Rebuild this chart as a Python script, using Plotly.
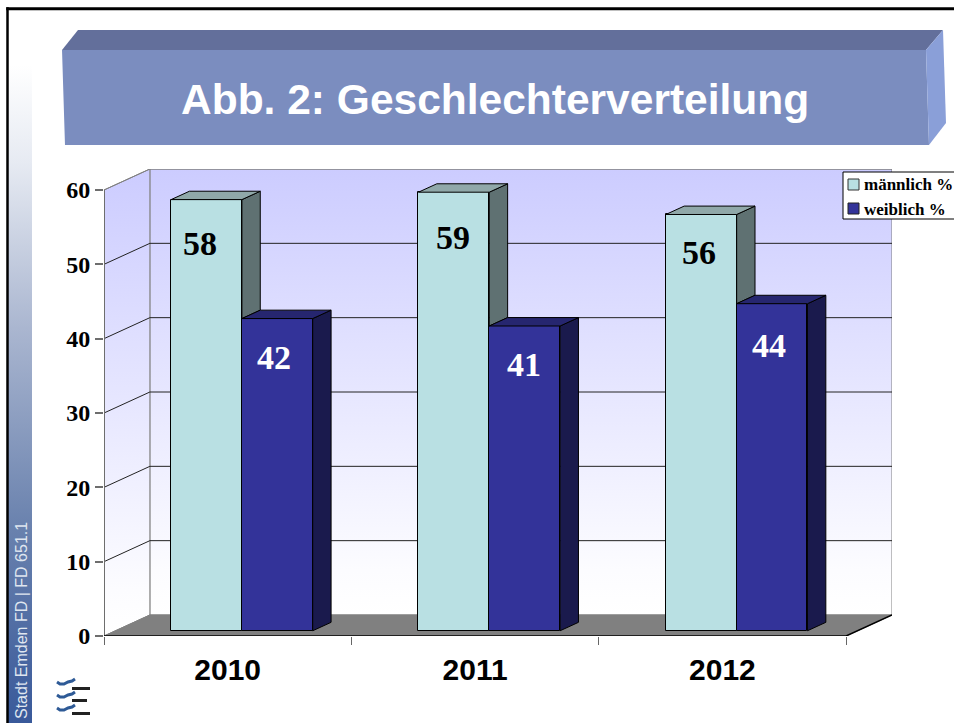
import plotly.graph_objects as go

# ---- data ----
years = ["2010", "2011", "2012"]
male = [58, 59, 56]
female = [42, 41, 44]
y_ticks = [0, 10, 20, 30, 40, 50, 60]
series_names = ["männlich %", "weiblich %"]
title_text = "Abb. 2: Geschlechterverteilung"
side_text = "Stadt Emden FD | FD 651.1"

# ---- page geometry ----
W, H = 954, 723
SERIF = "Liberation Serif"
SANS = "Liberation Sans"
def px(x): return x / W
def py(y): return 1 - y / H

# 3D projection in axis units
DX, DY = 46 / 248, 21 / 7.43
NEAR, FAR = 0.25, 0.65
XNUDGE = 0.06
BAR_W = 71 / 248
XMAX, YMAX = 3 + DX, 60 + DY

def proj(x, v, d):
    return x + (d + XNUDGE) * DX, v + d * DY

def poly(points, color, line="black", lw=1):
    xs = [p[0] for p in points] + [points[0][0]]
    ys = [p[1] for p in points] + [points[0][1]]
    return go.Scatter(x=xs, y=ys, mode="lines", fill="toself", fillcolor=color,
                      line=dict(color=line, width=lw), hoverinfo="skip",
                      showlegend=False, xaxis="x2", yaxis="y2", cliponaxis=False)

fig = go.Figure()

# sidebar gradient
fig.add_trace(go.Scatter(
    x=[8, 32, 32, 8, 8], y=[65, 65, H, H, 65], mode="lines", fill="toself",
    line=dict(width=0), fillgradient=dict(
        type="vertical",
        colorscale=[[0, "#39599a"], [0.3, "#6a82ae"], [0.6, "#aab6d0"], [0.85, "#e6eaf2"], [1, "#ffffff"]]),
    hoverinfo="skip", showlegend=False, xaxis="x3", yaxis="y3"))

# walls
wall_scale = [[0, "#ffffff"], [0.1, "#fcfcff"], [1, "#ccccff"]]
fig.add_trace(go.Scatter(
    x=[DX, XMAX, XMAX, DX, DX], y=[DY, DY, YMAX, YMAX, DY], mode="lines", fill="toself",
    line=dict(color="#808080", width=1), fillgradient=dict(type="vertical", colorscale=wall_scale),
    hoverinfo="skip", showlegend=False, cliponaxis=False))
fig.add_trace(go.Scatter(
    x=[0, DX, DX, 0, 0], y=[0, DY, YMAX, 60, 0], mode="lines", fill="toself",
    line=dict(color="#808080", width=1), fillgradient=dict(type="vertical", colorscale=wall_scale),
    hoverinfo="skip", showlegend=False, cliponaxis=False))
# floor
fig.add_trace(go.Scatter(
    x=[0, DX, XMAX, 3, 0], y=[0, DY, DY, 0, 0], mode="lines", fill="toself",
    fillcolor="#808080", line=dict(color="#808080", width=1),
    hoverinfo="skip", showlegend=False, cliponaxis=False))
# gridlines
for v in y_ticks[1:]:
    fig.add_trace(go.Scatter(
        x=[0, DX, XMAX], y=[v, v + DY, v + DY], mode="lines",
        line=dict(color="#222222" if v < 60 else "#808080", width=1),
        hoverinfo="skip", showlegend=False, cliponaxis=False))
# axis lines
fig.add_trace(go.Scatter(x=[0, 0], y=[0, 60], mode="lines", line=dict(color="#6e6e6e", width=2),
                         hoverinfo="skip", showlegend=False, cliponaxis=False))
fig.add_trace(go.Scatter(x=[0, 3, XMAX], y=[0, 0, DY], mode="lines", line=dict(color="black", width=1.5),
                         hoverinfo="skip", showlegend=False, cliponaxis=False))

# bars
base = NEAR * DY
shift = (NEAR + XNUDGE) * DX
centers = [i + 0.5 + shift for i in range(3)]
fig.add_trace(go.Bar(x=[c - BAR_W / 2 for c in centers], y=male, base=base, width=BAR_W,
                     name=series_names[0], marker=dict(color="#b9e0e3", line=dict(color="black", width=1)),
                     xaxis="x2", yaxis="y2", showlegend=False))
fig.add_trace(go.Bar(x=[c + BAR_W / 2 for c in centers], y=female, base=base, width=BAR_W,
                     name=series_names[1], marker=dict(color="#333399", line=dict(color="black", width=1)),
                     xaxis="x2", yaxis="y2", showlegend=False))

for c, m, f in zip(centers, male, female):
    x0, x1, x2 = c - BAR_W - shift, c - shift, c + BAR_W - shift
    # male side (hidden below the female top) and top
    fig.add_trace(poly([proj(x1, m, NEAR), proj(x1, m, FAR), proj(x1, f, FAR), proj(x1, f, NEAR)], "#5f7172"))
    fig.add_trace(poly([proj(x0, m, NEAR), proj(x1, m, NEAR), proj(x1, m, FAR), proj(x0, m, FAR)], "#90a8a9"))
    # female side and top
    fig.add_trace(poly([proj(x2, f, NEAR), proj(x2, f, FAR), proj(x2, 0, FAR), proj(x2, 0, NEAR)], "#1a1a4d"))
    fig.add_trace(poly([proj(x1, f, NEAR), proj(x2, f, NEAR), proj(x2, f, FAR), proj(x1, f, FAR)], "#26266f"))

annotations = []
# value labels
label_shift_m = [(-7, -44), (-1, -45), (-2, -38)]
label_shift_f = [(-3, -39), (-1, -39), (-3, -42)]
for c, m, f, sm, sf in zip(centers, male, female, label_shift_m, label_shift_f):
    annotations.append(dict(x=c - BAR_W / 2, y=m + base, xref="x2", yref="y2", text=f"<b>{m}</b>",
                            showarrow=False, xshift=sm[0], yshift=sm[1], xanchor="center", yanchor="middle",
                            font=dict(family=SERIF, size=34, color="black")))
    annotations.append(dict(x=c + BAR_W / 2, y=f + base, xref="x2", yref="y2", text=f"<b>{f}</b>",
                            showarrow=False, xshift=sf[0], yshift=sf[1], xanchor="center", yanchor="middle",
                            font=dict(family=SERIF, size=34, color="white")))
# title
annotations.append(dict(x=px(495), y=py(100), xref="paper", yref="paper", text=f"<b>{title_text}</b>",
                        xanchor="center", yanchor="middle",
                        showarrow=False, font=dict(family=SANS, size=42.5, color="white")))
# sidebar text
annotations.append(dict(x=px(21), y=py(621), xref="paper", yref="paper", text=side_text, textangle=-90,
                        xanchor="center", yanchor="middle",
                        showarrow=False, font=dict(family=SANS, size=16, color="#dfe6f0")))
# legend
for name, yy in zip(series_names, [185, 209]):
    annotations.append(dict(x=px(864), y=py(yy), xref="paper", yref="paper", text=f"<b>{name}</b>",
                            xanchor="left", yanchor="middle", xshift=-2,
                            showarrow=False, font=dict(family=SERIF, size=17, color="black")))

def rect(x0, y0, x1, y1, fill, line=None, lw=1, layer="above"):
    return dict(type="rect", xref="paper", yref="paper", x0=px(x0), x1=px(x1), y0=py(y0), y1=py(y1),
                fillcolor=fill, line=dict(color=line or fill, width=lw if line else 0), layer=layer)

def path(points, fill, layer="below"):
    d = "M " + " L ".join(f"{px(a):.5f},{py(b):.5f}" for a, b in points) + " Z"
    return dict(type="path", xref="paper", yref="paper", path=d, fillcolor=fill, line=dict(width=0), layer=layer)

def stroke(d_pts, color, lw):
    d = "M " + " L ".join(f"{px(a):.5f},{py(b):.5f}" for a, b in d_pts)
    return dict(type="path", xref="paper", yref="paper", path=d, line=dict(color=color, width=lw), layer="above")

shapes = [
    # slide frame
    rect(7, 8, W + 5, 9.5, "black", "black", 1.5, "below"),
    rect(7, 8, 8, H + 5, "black", "black", 1.5, "above"),
    # title block
    path([(62, 50), (78, 30), (943, 30), (926, 50)], "#636f9b"),
    path([(62, 50), (926, 50), (929, 145), (65, 145)], "#7b8dbf"),
    path([(926, 50), (943, 30), (946, 123), (929, 145)], "#8a9fd8"),
    # legend
    rect(843, 172, W + 5, 219, "white", "black", 1),
    rect(848, 179, 859, 190, "#b9e0e3", "#333333", 1),
    rect(848, 203, 859, 214, "#333399", "#222222", 1),
]
# logo
for wave_y, bar_y, bar_end in zip((682, 695, 708), (687, 699, 712), (90, 87, 90)):
    shapes.append(stroke([(57, wave_y), (60, wave_y + 2), (64, wave_y + 2), (68, wave_y), (72, wave_y - 1), (75, wave_y - 3)], "#2e5a96", 3))
    shapes.append(rect(72, bar_y, bar_end, bar_y + 3, "#222222"))

fig.update_layout(
    width=W, height=H, margin=dict(l=0, r=0, t=0, b=0, autoexpand=False), autosize=False,
    paper_bgcolor="white", plot_bgcolor="rgba(0,0,0,0)", barmode="overlay", bargap=0,
    shapes=shapes, annotations=annotations, showlegend=False,
    xaxis=dict(domain=[px(104), px(892)], range=[0, XMAX], showgrid=False, zeroline=False, showline=False,
               tickmode="array", tickvals=[0.5, 1.5, 2.5], ticktext=years, ticks="outside", ticklen=7,
               tickcolor="rgba(0,0,0,0)", tickfont=dict(family=SANS, size=30, color="black", weight="bold"),
               minor=dict(tickmode="array", tickvals=[0, 1, 2, 3], ticks="outside", ticklen=8,
                          tickcolor="#666666", tickwidth=1),
               fixedrange=True, anchor="y"),
    yaxis=dict(domain=[py(636), py(169)], range=[0, YMAX], showgrid=False, zeroline=False, showline=False,
               tickmode="array", tickvals=y_ticks, ticks="outside", ticklen=8, tickwidth=2, tickcolor="#6e6e6e",
               tickfont=dict(family=SERIF, size=24, color="black", weight="bold"),
               fixedrange=True, anchor="x"),
    xaxis2=dict(overlaying="x", range=[0, XMAX], visible=False, fixedrange=True, anchor="y2"),
    yaxis2=dict(overlaying="y", range=[0, YMAX], visible=False, fixedrange=True, anchor="x2"),
    xaxis3=dict(domain=[0, 1], range=[0, W], visible=False, fixedrange=True, anchor="y3"),
    yaxis3=dict(domain=[0, 1], range=[H, 0], visible=False, fixedrange=True, anchor="x3"),
)

fig.write_html("out.html", config=dict(displayModeBar=False),
               post_script="document.body.style.margin='0';document.body.style.overflow='hidden';")
